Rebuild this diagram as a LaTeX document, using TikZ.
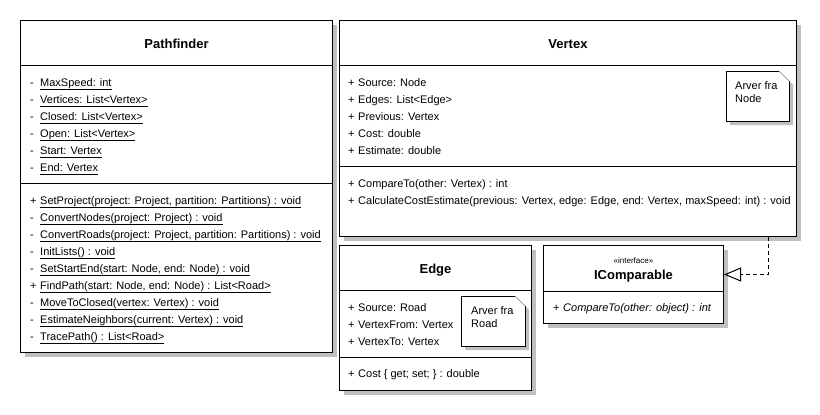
\documentclass[tikz,border=0pt]{standalone}
\usepackage{fontspec}
\setmainfont{Liberation Sans}
\usetikzlibrary{arrows.meta,shadows}

\tikzset{
  classbox/.style={draw, line width=1pt, fill=white, anchor=north west, inner sep=0pt,
    drop shadow={shadow xshift=4pt, shadow yshift=-4pt, fill=black!25, opacity=1}},
  classname/.style={anchor=base, inner sep=0pt, font=\fontsize{13}{15}\selectfont\bfseries},
  member/.style={anchor=base west, inner sep=0pt, font=\fontsize{11}{13}\selectfont},
  notebox/.style={anchor=north west, inner sep=0pt, outer sep=0pt},
  notetext/.style={anchor=north west, align=left, inner sep=0pt, font=\fontsize{11}{13}\selectfont},
  realizes/.style={line width=1pt, dash pattern=on 4pt off 3pt,
    -{Triangle[open, length=17pt, width=14pt]}}
}

% static members are underlined
\newcommand{\ulm}[1]{\underline{\vphantom{gp}#1}}
\newcommand{\vis}[1]{\makebox[10pt][l]{#1}}

\begin{document}
\begin{tikzpicture}[x=1pt, y=-1pt]
  \useasboundingbox (0,0) rectangle (820,415);

  % --- Pathfinder ---
  \node[classbox, minimum width=312pt, minimum height=332pt] (pathfinder) at (20,20) {};
  \node[classname] (pathfindername) at (pathfinder.north |- 0,48) {Pathfinder};
  \draw[line width=1pt] (pathfinder.west |- 0,65) -- (pathfinder.east |- 0,65);
  \draw[line width=1pt] (pathfinder.west |- 0,183) -- (pathfinder.east |- 0,183);
  % attributes
  \foreach \v/\txt [count=\i] in {-/MaxSpeed: int, -/Vertices: List<Vertex>,
      -/Closed: List<Vertex>, -/Open: List<Vertex>, -/Start: Vertex, -/End: Vertex} {
    \node[member] (pfattr\i) at (30, {69+17*\i}) {\vis{\v}\ulm{\txt}};
  }
  % methods
  \foreach \v/\txt [count=\i] in {
      +/{SetProject(project: Project, partition: Partitions) : void},
      -/{ConvertNodes(project: Project) : void},
      -/{ConvertRoads(project: Project, partition: Partitions) : void},
      -/{InitLists() : void},
      -/{SetStartEnd(start: Node, end: Node) : void},
      +/{FindPath(start: Node, end: Node) : List<Road>},
      -/{MoveToClosed(vertex: Vertex) : void},
      -/{EstimateNeighbors(current: Vertex) : void},
      -/{TracePath() : List<Road>}} {
    \node[member] (pfop\i) at (30, {187+17*\i}) {\vis{\v}\ulm{\txt}};
  }

  % --- Vertex ---
  \node[classbox, minimum width=457pt, minimum height=216pt] (vertex) at (339,20) {};
  \node[classname] (vertexname) at (vertex.north |- 0,48) {Vertex};
  \draw[line width=1pt] (vertex.west |- 0,65) -- (vertex.east |- 0,65);
  \draw[line width=1pt] (vertex.west |- 0,166) -- (vertex.east |- 0,166);
  \foreach \txt [count=\i] in {Source: Node, Edges: List<Edge>, Previous: Vertex,
      Cost: double, Estimate: double} {
    \node[member] (vxattr\i) at (348, {69+17*\i}) {\vis{+}\txt};
  }
  \foreach \txt [count=\i] in {{CompareTo(other: Vertex) : int},
      {CalculateCostEstimate(previous: Vertex, edge: Edge, end: Vertex, maxSpeed: int) : void}} {
    \node[member] (vxop\i) at (348, {170+17*\i}) {\vis{+}\txt};
  }

  % --- Edge ---
  \node[classbox, minimum width=192pt, minimum height=145pt] (edge) at (339,245) {};
  \node[classname] (edgename) at (edge.north |- 0,273) {Edge};
  \draw[line width=1pt] (edge.west |- 0,290) -- (edge.east |- 0,290);
  \draw[line width=1pt] (edge.west |- 0,357) -- (edge.east |- 0,357);
  \foreach \txt [count=\i] in {Source: Road, VertexFrom: Vertex, VertexTo: Vertex} {
    \node[member] (edattr\i) at (348, {294+17*\i}) {\vis{+}\txt};
  }
  \node[member] (edop1) at (348,377) {\vis{+}Cost \{ get; set; \} : double};

  % --- notes (folded corner, shadow first) ---
  \node[notebox, minimum width=63pt, minimum height=50pt] (vxnote) at (726,71) {};
  \node[notebox, minimum width=64pt, minimum height=50pt] (ednote) at (461,296) {};
  \foreach \n in {vxnote, ednote} {
    \fill[black!25] ([shift={(4pt,-4pt)}]\n.north west) -- ([shift={(-6pt,-4pt)}]\n.north east)
      -- ([shift={(4pt,-14pt)}]\n.north east) -- ([shift={(4pt,-4pt)}]\n.south east)
      -- ([shift={(4pt,-4pt)}]\n.south west) -- cycle;
    \fill[white] (\n.north west) -- ([xshift=-10pt]\n.north east) -- ([yshift=-10pt]\n.north east)
      -- (\n.south east) -- (\n.south west) -- cycle;
    \draw[line width=1pt] ([xshift=-10pt]\n.north east) -- (\n.north west)
      -- (\n.south west) -- (\n.south east) -- ([yshift=-10pt]\n.north east);
    \draw[gray] ([xshift=-10pt]\n.north east) -- ([yshift=-10pt]\n.north east);
  }
  \node[notetext] (vxnotetext) at (735,81) {Arver fra\\Node};
  \node[notetext] (ednotetext) at (471,306) {Arver fra\\Road};

  % --- IComparable ---
  \node[classbox, minimum width=180pt, minimum height=78pt] (icomp) at (543,245) {};
  \node[anchor=base, inner sep=0pt, font=\fontsize{8}{9}\selectfont] (icompstereo)
    at (icomp.north |- 0,263) {«interface»};
  \node[classname] (icompname) at (icomp.north |- 0,279) {IComparable};
  \draw[line width=1pt] (icomp.west |- 0,291) -- (icomp.east |- 0,291);
  \node[member] (icop1) at (553,311) {\vis{+}\textit{CompareTo(other: object) : int}};

  % --- realization ---
  \coordinate (vxtail) at ([xshift=200pt]vertex.south);
  \draw[realizes] (vxtail) |- ([yshift=10pt]icomp.east);
\end{tikzpicture}
\end{document}
